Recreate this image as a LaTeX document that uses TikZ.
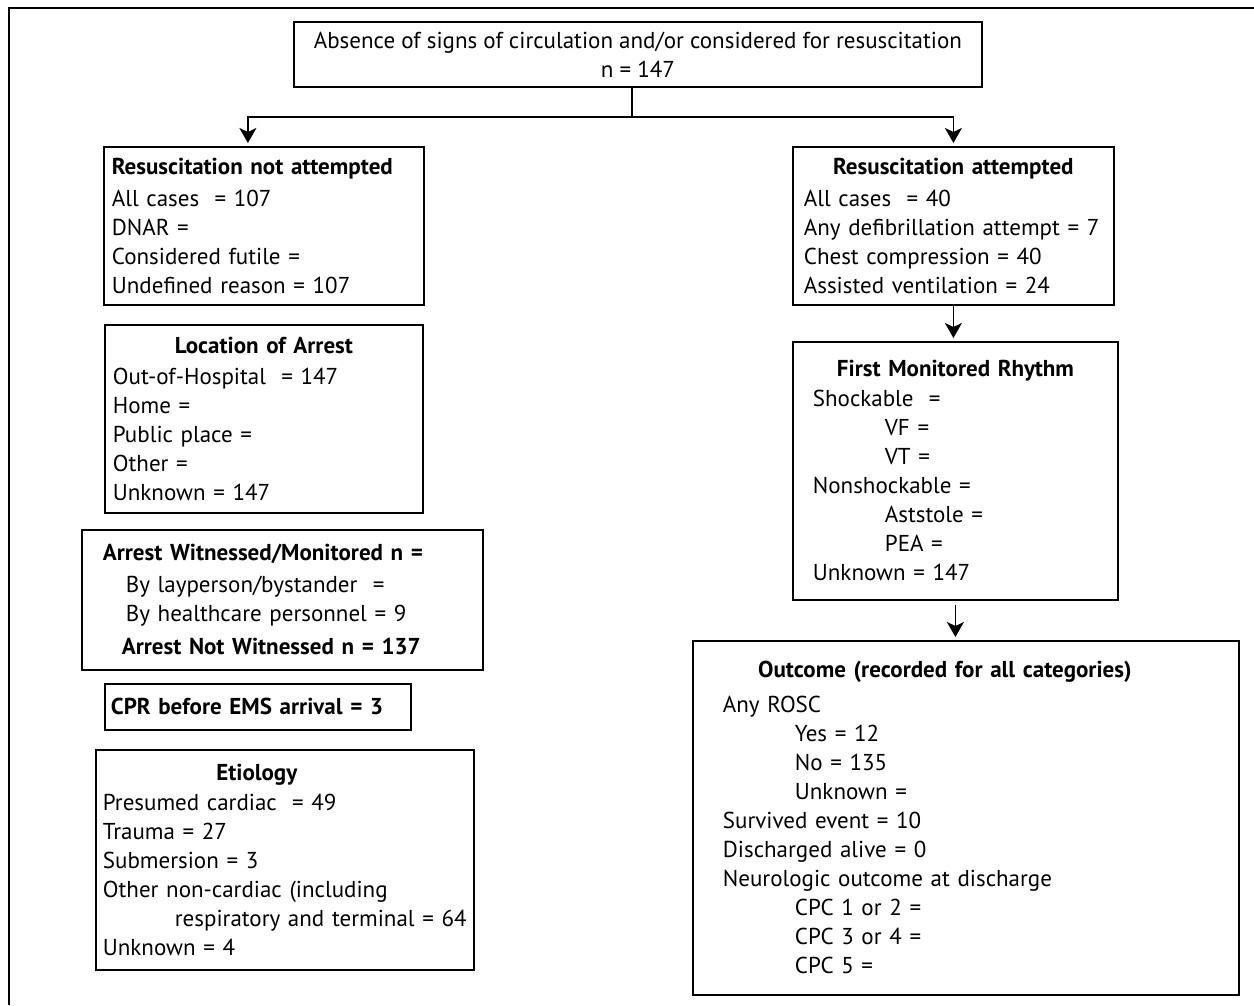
\documentclass[tikz,border=0pt]{standalone}
\usepackage{fontspec}
\setmainfont{PT Sans}
\usetikzlibrary{arrows.meta}
\tikzset{
  caja/.style={draw, line width=1.8pt, anchor=north west, align=left, inner ysep=0pt,
    font=\fontsize{23}{29}\selectfont},
  flecha/.style={line width=1.8pt, -{Stealth[length=15pt,width=17pt,inset=4pt]}, shorten >=3pt},
}
\newcommand{\titulo}[1]{\hspace*{\fill}\textbf{#1}\hspace*{\fill}\mbox{}}
\begin{document}
\begin{tikzpicture}[x=1pt,y=-1pt]
        \useasboundingbox (0,0) rectangle (1254,1005);
        % marco
        \draw[line width=1.8pt] (9,1005) -- (9,8) -- (1254,8);

        % caja superior
        \node[caja, align=center, inner xsep=0pt, minimum width=688pt, minimum height=65pt] (inicio) at (293,21)
          {Absence of signs of circulation and/or considered for resuscitation\\ n = 147};

        % columna izquierda
        \node[caja, text width=304pt, inner xsep=8pt, minimum height=158pt] (noint) at (103,146)
          {\textbf{Resuscitation not attempted}\\[3pt]
           All cases\ \ = 107\\ DNAR =\\ Considered futile =\\ Undefined reason = 107};

        \node[caja, text width=302pt, inner xsep=8pt, minimum height=188pt] (lugar) at (104,324)
          {\titulo{Location of Arrest}\\[2pt]
           Out-of-Hospital\ \ = 147\\ Home =\\ Public place =\\ Other =\\ Unknown = 147};

        \node[caja, text width=359pt, inner xsep=21pt, minimum height=140pt] (testigo) at (81,529)
          {\textbf{Arrest Witnessed/Monitored n =}\\[3pt]
           \hspace*{23pt}By layperson/bystander\ \ =\\
           \hspace*{23pt}By healthcare personnel = 9\\[4pt]
           \hspace*{19pt}\textbf{Arrest Not Witnessed n = 137}};

        \node[caja, text width=294pt, inner xsep=6pt, minimum height=46pt] (rcp) at (104,683)
          {\textbf{CPR before EMS arrival = 3}};

        \node[caja, text width=364pt, inner xsep=7pt, minimum height=220pt] (etiologia) at (95,749)
          {\titulo{Etiology}\hspace*{56pt}\mbox{}\\[1pt]
           Presumed cardiac\ \ = 49\\ Trauma = 27\\ Submersion = 3\\
           Other non-cardiac (including\\
           \hspace*{72pt}respiratory and terminal = 64\\ Unknown = 4};

        % columna derecha
        \node[caja, text width=299pt, inner xsep=11pt, minimum height=158pt] (intento) at (792,146)
          {\titulo{Resuscitation attempted}\\[3pt]
           All cases\ \ = 40\\ Any defibrillation attempt = 7\\
           Chest compression = 40\\ Assisted ventilation = 24};

        \node[caja, text width=285pt, inner xsep=20pt, minimum height=258pt] (ritmo) at (792,341)
          {\titulo{First Monitored Rhythm}\\[1pt]
           Shockable\ \ =\\ \hspace*{72pt}VF =\\ \hspace*{72pt}VT =\\
           Nonshockable =\\ \hspace*{72pt}Aststole =\\ \hspace*{72pt}PEA =\\ Unknown = 147};

        \node[caja, text width=486pt, inner xsep=30pt, minimum height=354pt] (resultado) at (692,640)
          {\titulo{Outcome (recorded for all categories)}\hspace*{42pt}\mbox{}\\[6pt]
           Any ROSC\\ \hspace*{72pt}Yes = 12\\ \hspace*{72pt}No = 135\\ \hspace*{72pt}Unknown =\\
           Survived event = 10\\ Discharged alive = 0\\ Neurologic outcome at discharge\\
           \hspace*{72pt}CPC 1 or 2 =\\ \hspace*{72pt}CPC 3 or 4 =\\ \hspace*{72pt}CPC 5 =};

        % conectores
        \coordinate (division) at ([xshift=-6pt,yshift=-29pt]inicio.south);
        \draw[line width=1.8pt] ([xshift=-6pt]inicio.south) -- (division);
        \draw[flecha] (division) -| ([xshift=-16pt]noint.north);
        \draw[flecha] (division) -| (intento.north);
        \draw[flecha] (intento.south) -- (intento.south |- ritmo.north);
        \draw[flecha] ([yshift=-4pt]ritmo.south) -- (ritmo.south |- resultado.north);
\end{tikzpicture}
\end{document}
